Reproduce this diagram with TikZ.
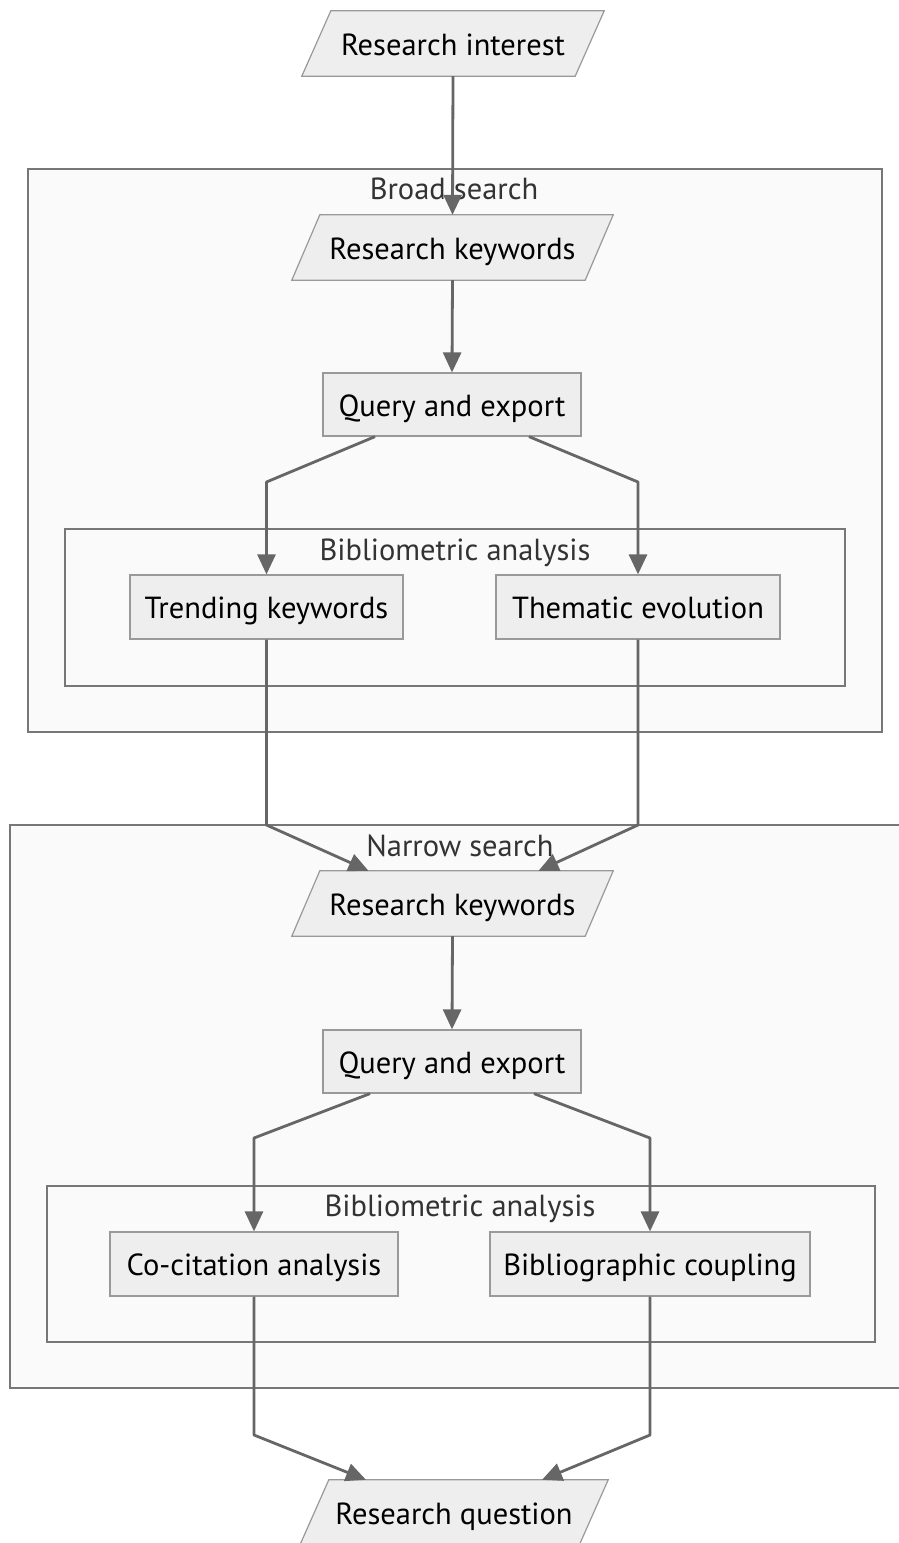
\documentclass[tikz,border=0pt]{standalone}
\usepackage{fontspec}
\setmainfont{PT Sans}
\usetikzlibrary{arrows.meta,calc}
\definecolor{nodefill}{HTML}{EEEEEE}
\definecolor{nodeline}{HTML}{999999}
\definecolor{clusterfill}{HTML}{FAFAFA}
\definecolor{clusterline}{HTML}{777777}
\definecolor{edgeline}{HTML}{666666}
\definecolor{labeltext}{HTML}{333333}
\tikzset{
  txt/.style={font=\fontsize{30.5}{34}\selectfont, text=black,
    text height=25pt, text depth=2pt},
  box/.style={txt, draw=nodeline, fill=nodefill, line width=1.2pt,
    minimum height=63pt, inner sep=0pt},
  para/.style={txt, minimum height=65pt, inner sep=0pt},
  parashape/.style={draw=nodeline, fill=nodefill, line width=1.2pt},
  clusterbox/.style={draw=clusterline, fill=clusterfill, line width=1.2pt},
  clusterlabel/.style={font=\fontsize{30.5}{34}\selectfont, text=labeltext,
    text height=25pt, text depth=2pt, inner sep=0pt},
  edge/.style={draw=edgeline, line width=2.8pt, line join=round,
    -{Triangle[length=20pt,width=18pt]}}
}
% skewed input/output box drawn behind a text node
\newcommand{\paranode}[5]{%
  \node[para, minimum width=#4] (#1) at (#2) {};
  \fill[parashape] ($(#1.north west)+(#5,0)$) -- ($(#1.north east)+(#5,0)$)
    -- ($(#1.south east)+(-#5,0)$) -- ($(#1.south west)+(-#5,0)$) -- cycle;
  \node[para] at (#1) {#3};
}
\begin{document}
\begin{tikzpicture}[x=1pt,y=-1pt]
\useasboundingbox (0,0) rectangle (899,1543);

% groups
\draw[clusterbox] (28,169) rectangle (882,732);
\node[clusterlabel] (broad) at (454,188) {Broad search};
\draw[clusterbox] (65,529) rectangle (845,686);
\node[clusterlabel] (biblio1) at (455,549) {Bibliometric analysis};

\draw[clusterbox] (10,825) rectangle (905,1388);
\node[clusterlabel] (narrow) at (460,845) {Narrow search};
\draw[clusterbox] (47,1186) rectangle (875,1342);
\node[clusterlabel] (biblio2) at (460,1205) {Bibliometric analysis};

% steps
\paranode{ri}{453,43.5}{Research interest}{273pt}{14.5}
\paranode{rk1}{452.5,247.5}{Research keywords}{293pt}{14}
\node[box, minimum width=258pt] (qe1) at (452,404.5) {Query and export};
\node[box, minimum width=273pt, minimum height=64pt] (tk) at (266.5,607) {Trending keywords};
\node[box, minimum width=284pt, minimum height=64pt] (te) at (638,607) {Thematic evolution};

\paranode{rk2}{452.5,903.5}{Research keywords}{293pt}{14}
\node[box, minimum width=258pt] (qe2) at (452,1061.5) {Query and export};
\node[box, minimum width=288pt, minimum height=64pt] (cc) at (254,1264) {Co-citation analysis};
\node[box, minimum width=320pt, minimum height=64pt] (bc) at (650,1264) {Bibliographic coupling};

\paranode{rq}{454,1512.5}{Research question}{279pt}{14.5}

% bend points
\coordinate (b1) at (266.5,482);
\coordinate (b2) at (638,482);
\coordinate (b3) at (266.5,825);
\coordinate (b4) at (638,825);
\coordinate (b5) at (254,1138);
\coordinate (b6) at (650,1138);
\coordinate (b7) at (254,1435);
\coordinate (b8) at (650,1435);

% connectors
\draw[edge] (ri.south) -- (rk1.north);
\draw[edge] (rk1.south) -- (qe1.north);
\draw[edge] ([xshift=-77pt]qe1.south) -- (b1) -- (tk.north);
\draw[edge] ([xshift=77pt]qe1.south) -- (b2) -- (te.north);
\draw[edge] (tk.south) -- (b3) -- ([xshift=-84pt]rk2.north);
\draw[edge] (te.south) -- (b4) -- ([xshift=86pt]rk2.north);
\draw[edge] (rk2.south) -- (qe2.north);
\draw[edge] ([xshift=-82pt]qe2.south) -- (b5) -- (cc.north);
\draw[edge] ([xshift=82pt]qe2.south) -- (b6) -- (bc.north);
\draw[edge] (cc.south) -- (b7) -- ([xshift=-88pt]rq.north);
\draw[edge] (bc.south) -- (b8) -- ([xshift=88pt]rq.north);
\end{tikzpicture}
\end{document}
